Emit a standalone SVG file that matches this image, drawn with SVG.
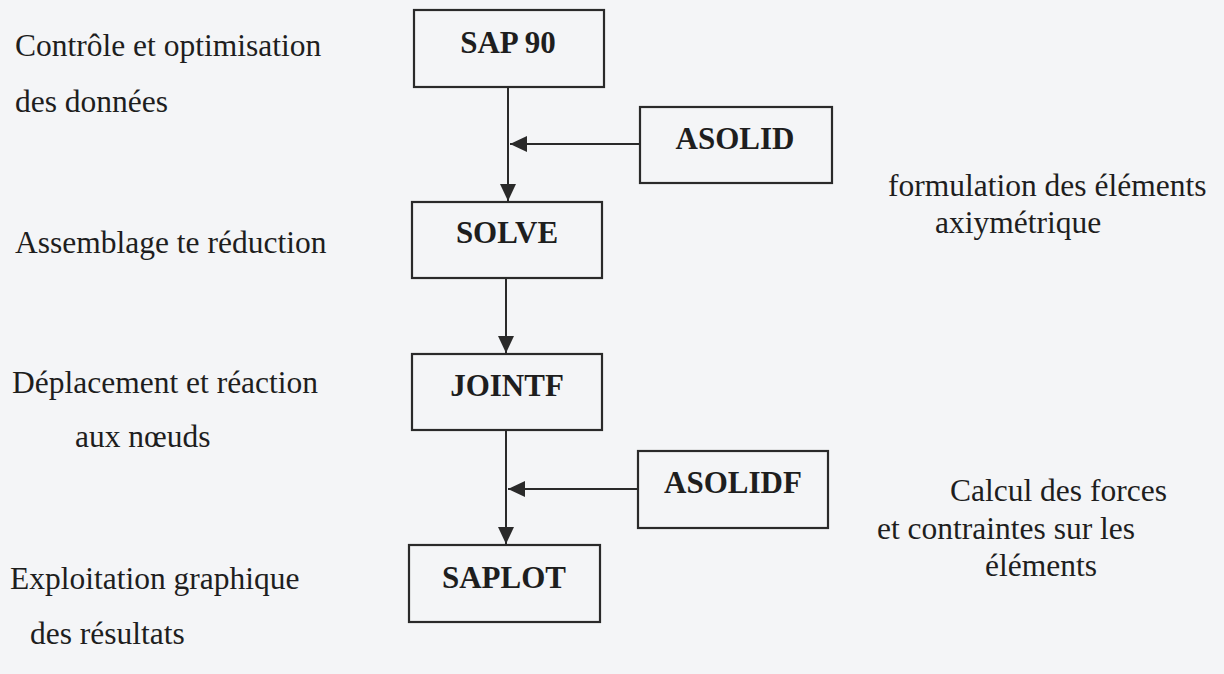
<svg xmlns="http://www.w3.org/2000/svg" width="1224" height="674" viewBox="0 0 1224 674">
<style>
.bg{fill:#f4f5f7}
.box{fill:none;stroke:#2a2a2a;stroke-width:2.2}
.bt{font-family:"Liberation Serif","Times New Roman",serif;font-weight:bold;font-size:31px;fill:#1e1e1e;text-anchor:middle}
.lt{font-family:"Liberation Serif","Times New Roman",serif;font-size:31.5px;fill:#1e1e1e}
.ln{stroke:#2a2a2a;stroke-width:2;fill:none}
</style>
<defs>
<marker id="ah" markerUnits="userSpaceOnUse" markerWidth="18" markerHeight="18" viewBox="0 0 18 18" refX="17" refY="9" orient="auto">
<path d="M0,1 L17,9 L0,17 Z" fill="#2a2a2a"/>
</marker>
</defs>
<rect class="bg" x="0" y="0" width="1224" height="674"/>
<g id="connectors">
<line class="ln" x1="508" y1="87" x2="508" y2="201" marker-end="url(#ah)"/>
<line class="ln" x1="640" y1="144" x2="510" y2="144" marker-end="url(#ah)"/>
<line class="ln" x1="506" y1="278" x2="506" y2="353" marker-end="url(#ah)"/>
<line class="ln" x1="506" y1="430" x2="506" y2="544" marker-end="url(#ah)"/>
<line class="ln" x1="638" y1="489" x2="508" y2="489" marker-end="url(#ah)"/>
</g>
<g id="sap90">
<rect class="box" x="414" y="10" width="190" height="77"/>
<text class="bt" x="508" y="53">SAP 90</text>
</g>
<g id="asolid">
<rect class="box" x="640" y="107" width="192" height="76"/>
<text class="bt" x="735" y="149">ASOLID</text>
</g>
<g id="solve">
<rect class="box" x="412" y="202" width="190" height="76"/>
<text class="bt" x="507" y="243">SOLVE</text>
</g>
<g id="jointf">
<rect class="box" x="412" y="354" width="190" height="76"/>
<text class="bt" x="507" y="396">JOINTF</text>
</g>
<g id="asolidf">
<rect class="box" x="638" y="451" width="190" height="77"/>
<text class="bt" x="733" y="493">ASOLIDF</text>
</g>
<g id="saplot">
<rect class="box" x="409" y="545" width="191" height="77"/>
<text class="bt" x="504" y="588">SAPLOT</text>
</g>
<g id="labels">
<text class="lt" x="15" y="56">Contrôle et optimisation</text>
<text class="lt" x="15" y="112">des données</text>
<text class="lt" x="15" y="253">Assemblage te réduction</text>
<text class="lt" x="12" y="393">Déplacement et réaction</text>
<text class="lt" x="75" y="447">aux nœuds</text>
<text class="lt" x="10" y="589">Exploitation graphique</text>
<text class="lt" x="30" y="644">des résultats</text>
<text class="lt" x="888" y="196">formulation des éléments</text>
<text class="lt" x="935" y="233">axiymétrique</text>
<text class="lt" x="950" y="501">Calcul des forces</text>
<text class="lt" x="877" y="539">et contraintes sur les</text>
<text class="lt" x="985" y="576">éléments</text>
</g>
</svg>
